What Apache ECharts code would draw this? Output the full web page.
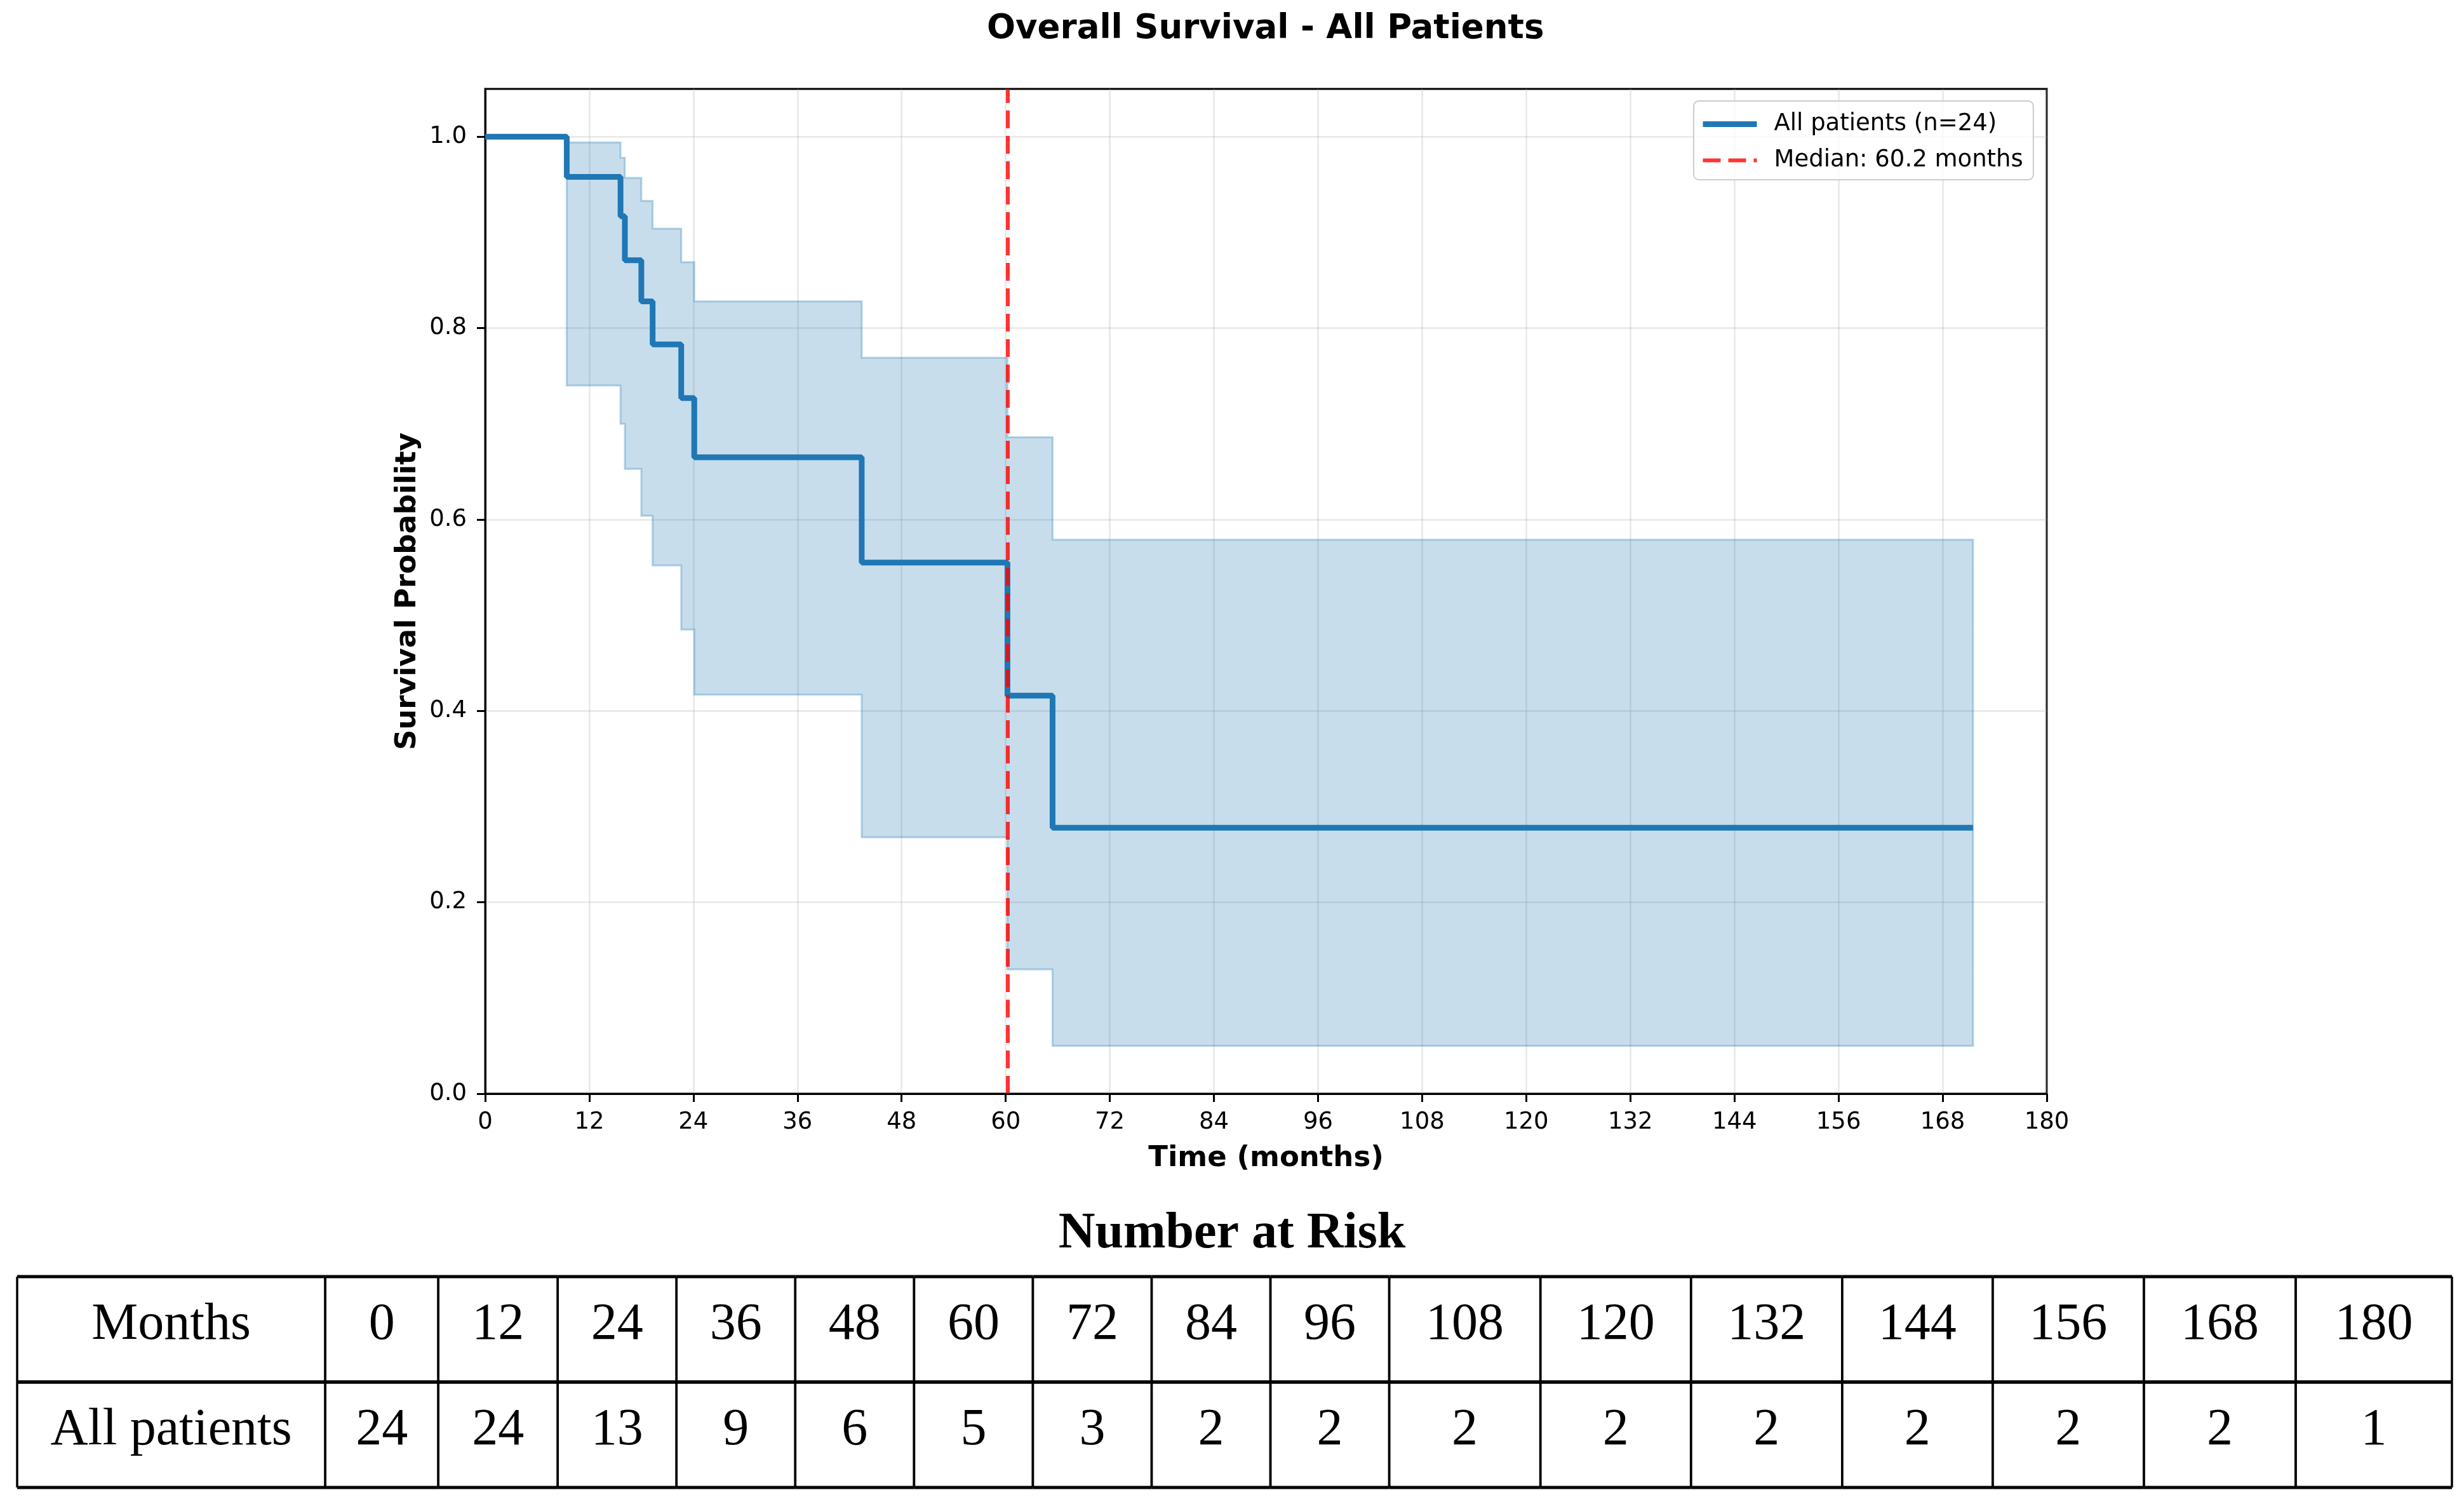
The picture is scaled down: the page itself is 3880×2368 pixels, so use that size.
<!DOCTYPE html>
<html>
<head>
<meta charset="utf-8">
<title>Overall Survival - All Patients</title>
<script src="https://cdn.jsdelivr.net/npm/echarts@6/dist/echarts.min.js"></script>
<style>
  html, body { margin: 0; padding: 0; background: #fff; }
  #chart { width: 3880px; height: 2368px; }
</style>
</head>
<body>
<div id="chart"></div>
<script>
/* Overall survival — Kaplan-Meier curve with number-at-risk table */

// --- Data ---
const kmTimes      = [0, 9.4, 15.6, 16.1, 18.0, 19.3, 22.6, 24.1, 43.4, 60.2, 65.4, 171.5];
const kmSurvival   = [1.0, 0.958, 0.917, 0.871, 0.828, 0.783, 0.727, 0.665, 0.555, 0.416, 0.278, 0.278];
const ciUpper      = [1.0, 0.994, 0.978, 0.957, 0.933, 0.904, 0.869, 0.828, 0.769, 0.686, 0.579, 0.579];
const ciLower      = [1.0, 0.740, 0.700, 0.653, 0.604, 0.552, 0.485, 0.417, 0.268, 0.130, 0.050, 0.050];
const medianMonths = 60.2;
const nPatients    = 24;

const yTicks = [0, 0.2, 0.4, 0.6, 0.8, 1.0];

const riskMonths    = [0, 12, 24, 36, 48, 60, 72, 84, 96, 108, 120, 132, 144, 156, 168, 180];
const riskCounts    = [24, 24, 13, 9, 6, 5, 3, 2, 2, 2, 2, 2, 2, 2, 2, 1];
const riskRowLabels = ['Months', 'All patients'];

// --- Layout ---
const colWidths = [485, 178, 188, 187, 187, 187, 187, 187, 187, 187, 238, 237, 238, 237, 238, 239, 246];
const SANS = 'DejaVu Sans';
const SERIF = 'Liberation Serif';
const BLUE = '#1f77b4';
const RED = 'rgba(255,0,0,0.8)';

const kmName = `All patients (n=${nPatients})`;
const medianName = `Median: ${medianMonths} months`;

// confidence band as one step polygon (upper edge forward, lower edge back)
function renderBand(params, api) {
    if (params.dataIndex !== 0) return null;
    const pts = [];
    for (let i = 0; i < kmTimes.length; i++) {
        if (i > 0) pts.push(api.coord([kmTimes[i], ciUpper[i - 1]]));
        pts.push(api.coord([kmTimes[i], ciUpper[i]]));
    }
    for (let i = kmTimes.length - 1; i >= 0; i--) {
        pts.push(api.coord([kmTimes[i], ciLower[i]]));
        if (i > 0) pts.push(api.coord([kmTimes[i], ciLower[i - 1]]));
    }
    return {
        type: 'polygon',
        shape: { points: pts },
        style: { fill: 'rgba(31,119,180,0.25)', stroke: 'rgba(31,119,180,0.3)', lineWidth: 3 }
    };
}

// table cells: [x0, x1, row]
const cells = [];
const cellText = [];
let acc = 0;
colWidths.forEach((w, c) => {
    for (let r = 0; r < 2; r++) {
        cells.push([acc, acc + w, r]);
        if (c === 0) cellText.push(riskRowLabels[r]);
        else cellText.push(String(r === 0 ? riskMonths[c - 1] : riskCounts[c - 1]));
    }
    acc += w;
});
const tableWidth = acc;

function renderCell(params, api) {
    const p0 = api.coord([api.value(0), api.value(2)]);
    const p1 = api.coord([api.value(1), api.value(2) + 1]);
    const hStyle = { stroke: '#000', lineWidth: 5 };
    const vStyle = { stroke: '#000', lineWidth: 3.5 };
    return {
        type: 'group',
        children: [
            { type: 'line', shape: { x1: p0[0], y1: p0[1], x2: p1[0], y2: p0[1] }, style: hStyle },
            { type: 'line', shape: { x1: p0[0], y1: p1[1], x2: p1[0], y2: p1[1] }, style: hStyle },
            { type: 'line', shape: { x1: p0[0], y1: p0[1], x2: p0[0], y2: p1[1] }, style: vStyle },
            { type: 'line', shape: { x1: p1[0], y1: p0[1], x2: p1[0], y2: p1[1] }, style: vStyle },
            {
                type: 'text',
                style: {
                    text: cellText[params.dataIndex],
                    x: (p0[0] + p1[0]) / 2,
                    y: (p0[1] + p1[1]) / 2 - 7,
                    align: 'center',
                    verticalAlign: 'middle',
                    fontFamily: SERIF,
                    fontSize: 82,
                    fill: '#000'
                }
            }
        ]
    };
}

const chart = echarts.init(document.getElementById('chart'));
chart.setOption({
    animation: false,
    backgroundColor: '#fff',
    title: [
        {
            text: 'Overall Survival - All Patients',
            left: 1554, top: 20, padding: 0,
            textStyle: { fontFamily: SANS, fontWeight: 'bold', fontSize: 53, color: '#000' }
        },
        {
            text: 'Number at Risk',
            left: 'center', top: 1903, padding: 0,
            textStyle: { fontFamily: SERIF, fontWeight: 'bold', fontSize: 80, color: '#000' }
        }
    ],
    legend: {
        data: [
            { name: kmName, lineStyle: { color: BLUE, width: 9 } },
            { name: medianName, lineStyle: { color: RED, width: 6, type: [28, 12] } }
        ],
        orient: 'vertical',
        left: 2667, top: 159,
        padding: [18, 16, 12, 10],
        itemWidth: 85, itemHeight: 30, itemGap: 20,
        backgroundColor: 'rgba(255,255,255,0.8)',
        borderColor: '#cccccc', borderWidth: 2, borderRadius: 8,
        itemStyle: { color: 'transparent', borderWidth: 0 },
        textStyle: { fontFamily: SANS, fontSize: 37, color: '#000', padding: [0, 0, 0, 22] },
        selectedMode: false
    },
    grid: [
        { left: 764, right: 657, top: 140, bottom: 646, show: true, borderColor: '#000', borderWidth: 3 },
        { left: 27, right: 19, top: 2010, bottom: 26 }
    ],
    xAxis: [
        {
            type: 'value', min: 0, max: 180, interval: 12,
            name: 'Time (months)', nameLocation: 'middle', nameGap: 80,
            nameTextStyle: { fontFamily: SANS, fontWeight: 'bold', fontSize: 45, color: '#000' },
            axisLine: { lineStyle: { color: '#000', width: 3 } },
            axisTick: { length: 13, lineStyle: { color: '#000', width: 3 } },
            axisLabel: { margin: 27, fontFamily: SANS, fontSize: 37, color: '#000' },
            splitLine: { show: true, lineStyle: { color: 'rgba(176,176,176,0.3)', width: 2.5 } }
        },
        { gridIndex: 1, type: 'value', min: 0, max: tableWidth, show: false }
    ],
    yAxis: [
        {
            type: 'value', min: 0, max: 1.05, interval: 0.2,
            name: 'Survival Probability', nameLocation: 'middle', nameGap: 97,
            nameTextStyle: { fontFamily: SANS, fontWeight: 'bold', fontSize: 45, color: '#000' },
            axisLine: { show: true, lineStyle: { color: '#000', width: 3 } },
            axisTick: { show: true, length: 13, customValues: yTicks, lineStyle: { color: '#000', width: 3 } },
            axisLabel: {
                margin: 29, fontFamily: SANS, fontSize: 37, color: '#000',
                customValues: yTicks,
                formatter: v => v.toFixed(1)
            },
            splitLine: { show: true, lineStyle: { color: 'rgba(176,176,176,0.3)', width: 2.5 } }
        },
        { gridIndex: 1, type: 'value', min: 0, max: 2, inverse: true, show: false }
    ],
    series: [
        {
            name: '95% CI',
            type: 'custom',
            data: kmTimes.map((t, i) => [t, ciLower[i], ciUpper[i]]),
            encode: { x: 0, y: [1, 2] },
            renderItem: renderBand,
            silent: true,
            z: 1
        },
        {
            name: kmName,
            type: 'line', step: 'end',
            data: kmTimes.map((t, i) => [t, kmSurvival[i]]),
            symbol: 'none', silent: true,
            color: BLUE,
            lineStyle: { color: BLUE, width: 9 },
            z: 3
        },
        {
            name: medianName,
            type: 'line',
            data: [],
            symbol: 'none', silent: true,
            color: RED,
            lineStyle: { color: RED, width: 6, type: [28, 12] },
            markLine: {
                silent: true,
                symbol: ['none', 'none'],
                label: { show: false },
                lineStyle: { color: RED, width: 6, type: [28, 12] },
                data: [{ xAxis: medianMonths }]
            },
            z: 4
        },
        {
            name: 'risk table',
            type: 'custom',
            xAxisIndex: 1, yAxisIndex: 1,
            data: cells,
            encode: { x: [0, 1], y: 2 },
            renderItem: renderCell,
            silent: true,
            clip: false
        }
    ]
});
</script>
</body>
</html>
